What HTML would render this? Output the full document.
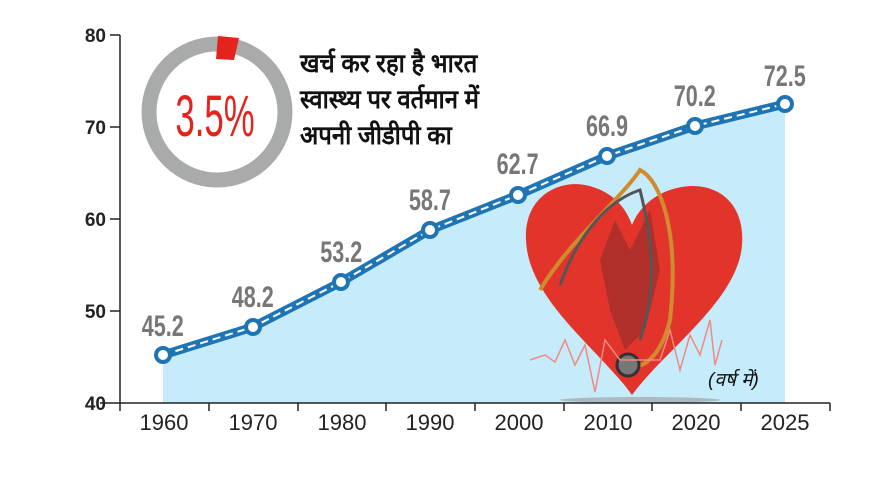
<!DOCTYPE html>
<html><head><meta charset="utf-8"><style>
html,body{margin:0;padding:0;background:#fff;}
svg{display:block}
text{font-family:"Liberation Sans","Noto Sans CJK SC",sans-serif;}
</style></head><body>
<svg width="886" height="489" viewBox="0 0 886 489" xmlns="http://www.w3.org/2000/svg">
<polygon points="163,355 253,327 341,282 430,230 518,195 607,156 695,126 785,104 785,403 163,403" fill="#c6ebfa"/>
<path d="M632,395 C600,350 528,300 526,240 C524,195 560,180 585,185 C610,190 625,205 632,225 C640,205 660,188 690,186 C725,185 745,210 742,245 C738,300 665,350 632,395 Z" fill="#e3342c"/>
<path d="M600,260 l15,-40 15,30 20,-40 10,60 -15,60 -20,20 -15,-40 Z" fill="#9a2e2a" opacity="0.7"/>
<path d="M540,290 C570,240 620,200 640,170 C660,180 680,230 670,320 C660,360 640,370 630,365" fill="none" stroke="#d08b2c" stroke-width="4"/>
<path d="M560,285 C580,230 610,200 640,190 C650,230 660,280 640,340" fill="none" stroke="#555" stroke-width="3"/>
<circle cx="628" cy="365" r="11" fill="#777" stroke="#333" stroke-width="3"/>
<polyline points="530,360 545,355 555,362 565,340 575,365 585,345 595,392 605,340 620,360 660,360 670,330 680,370 690,335 700,355 710,320 715,365 722,340" fill="none" stroke="#f08a80" stroke-width="1.5"/>
<ellipse cx="640" cy="400" rx="80" ry="3" fill="#999" opacity="0.6"/>
<line x1="120" y1="35" x2="120" y2="403" stroke="#222" stroke-width="1.5"/>
<line x1="100" y1="403" x2="830" y2="403" stroke="#222" stroke-width="1.5"/>
<g stroke="#222" stroke-width="1.5">
<line x1="110" y1="35" x2="120" y2="35"/><line x1="110" y1="127" x2="120" y2="127"/><line x1="110" y1="219" x2="120" y2="219"/><line x1="110" y1="311" x2="120" y2="311"/>
<line x1="120" y1="403" x2="120" y2="411"/><line x1="209" y1="403" x2="209" y2="411"/><line x1="298" y1="403" x2="298" y2="411"/><line x1="386" y1="403" x2="386" y2="411"/><line x1="475" y1="403" x2="475" y2="411"/><line x1="564" y1="403" x2="564" y2="411"/><line x1="652" y1="403" x2="652" y2="411"/><line x1="741" y1="403" x2="741" y2="411"/><line x1="830" y1="403" x2="830" y2="411"/>
</g>
<g font-size="19" font-weight="bold" fill="#222" text-anchor="end">
<text x="106" y="42">80</text><text x="106" y="134">70</text><text x="106" y="226">60</text><text x="106" y="318">50</text><text x="106" y="410">40</text>
</g>
<g font-size="22" fill="#222" text-anchor="middle">
<text x="164" y="430">1960</text><text x="253" y="430">1970</text><text x="342" y="430">1980</text><text x="430" y="430">1990</text><text x="519" y="430">2000</text><text x="608" y="430">2010</text><text x="696" y="430">2020</text><text x="785" y="430">2025</text>
</g>
<polyline points="163,355 253,327 341,282 430,230 518,195 607,156 695,126 785,104" fill="none" stroke="#1f74b4" stroke-width="9" stroke-linejoin="round"/>
<polyline points="163,355 253,327 341,282 430,230 518,195 607,156 695,126 785,104" fill="none" stroke="#fff" stroke-width="2" stroke-dasharray="8,5"/>
<g fill="#fff" stroke="#1f74b4" stroke-width="4">
<circle cx="163" cy="355" r="7"/><circle cx="253" cy="327" r="7"/><circle cx="341" cy="282" r="7"/><circle cx="430" cy="230" r="7"/><circle cx="518" cy="195" r="7"/><circle cx="607" cy="156" r="7"/><circle cx="695" cy="126" r="7"/><circle cx="785" cy="104" r="7"/>
</g>
<g font-size="30" font-weight="bold" fill="#777" text-anchor="middle" transform="scale(0.72,1)">
<text x="226" y="336">45.2</text><text x="351" y="307">48.2</text><text x="474" y="262">53.2</text><text x="597" y="210">58.7</text><text x="719" y="174">62.7</text><text x="843" y="136">66.9</text><text x="965" y="106">70.2</text><text x="1090" y="86">72.5</text>
</g>
<circle cx="217" cy="112" r="68" fill="none" stroke="#a9abaa" stroke-width="15"/>
<path d="M218,36 L239,38 L234,60 L216,59 Z" fill="#e4231f"/>
<text x="0" y="0" font-size="58" fill="#e4231f" text-anchor="middle" transform="translate(215,136) scale(0.6,1)">3.5%</text>
<g font-size="26" font-weight="bold" fill="#111" transform="translate(300,0) scale(0.92,1)">
<text x="0" y="72">खर्च कर रहा है भारत</text>
<text x="0" y="108">स्वास्थ्य पर वर्तमान में</text>
<text x="0" y="144">अपनी जीडीपी का</text>
</g>
<text x="708" y="386" font-size="19" font-style="italic" fill="#111">(वर्ष में)</text>
</svg>
</body></html>
